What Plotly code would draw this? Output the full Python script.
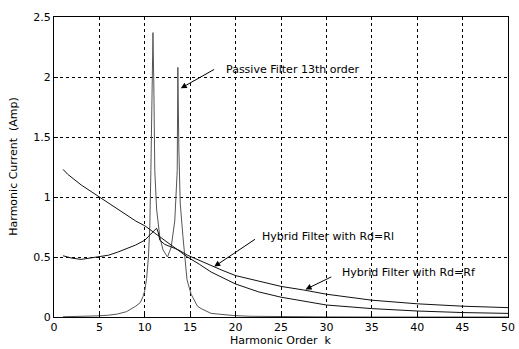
import plotly.graph_objects as go

# ---- data ----
passive_k = [1, 2, 3, 4, 5, 6, 7, 8, 8.5, 9, 9.5, 9.8, 10, 10.2, 10.4, 10.55, 10.67, 10.8, 10.9,
             11.0, 11.1, 11.3, 11.5, 11.65, 12.0, 12.5, 12.9, 13.3, 13.57, 13.64, 13.75, 13.9,
             14.2, 14.5, 14.65, 15.1, 15.8, 16.2, 17.3, 18, 19.8, 21.6, 25, 30, 35, 40, 45, 50]
passive_y = [0.002, 0.003, 0.005, 0.007, 0.01, 0.015, 0.025, 0.045, 0.065, 0.09, 0.12, 0.17, 0.22,
             0.32, 0.5, 0.75, 1.22, 1.9, 2.37, 1.9, 1.22, 0.9, 0.74, 0.67, 0.56, 0.5, 0.58, 0.8,
             1.22, 2.08, 1.4, 0.95, 0.67, 0.45, 0.31, 0.19, 0.09, 0.07, 0.03, 0.025, 0.012, 0.006,
             0.002, 0.001, 0.0, 0.0, 0.0, 0.0]

hyb_rl_k = [1, 2, 3, 4, 5, 6, 7, 8, 9, 10, 10.7, 11.3, 11.5, 11.65, 12.2, 13, 13.7, 14.7, 16,
            17.3, 18.5, 20, 22.5, 25, 27.5, 30, 35, 40, 45, 50]
hyb_rl_y = [0.51, 0.49, 0.48, 0.49, 0.5, 0.515, 0.54, 0.57, 0.6, 0.64, 0.69, 0.74, 0.7, 0.64,
            0.605, 0.58, 0.56, 0.515, 0.47, 0.43, 0.39, 0.345, 0.3, 0.255, 0.225, 0.19, 0.14,
            0.11, 0.09, 0.078]

hyb_rf_k = [1, 1.5, 3, 5, 7, 8, 9, 10, 10.74, 11.5, 12.2, 13, 13.7, 14.7, 16, 17.3, 20, 22.5,
            25, 27.5, 30, 35, 40, 45, 50]
hyb_rf_y = [1.23, 1.19, 1.1, 1.0, 0.9, 0.85, 0.8, 0.76, 0.72, 0.68, 0.635, 0.595, 0.56, 0.5,
            0.44, 0.375, 0.275, 0.21, 0.165, 0.13, 0.1, 0.07, 0.05, 0.037, 0.03]

x_ticks = [0, 5, 10, 15, 20, 25, 30, 35, 40, 45, 50]
y_ticks = [0, 0.5, 1, 1.5, 2, 2.5]
y_tick_text = ["0", "0.5", "1", "1.5", "2", "2.5"]

FONT = "DejaVu Sans, Arial, sans-serif"

fig = go.Figure()
fig.add_trace(go.Scatter(x=passive_k, y=passive_y, mode="lines",
                         line=dict(color="#555555", width=1), name="Passive Filter 13th order"))
fig.add_trace(go.Scatter(x=hyb_rl_k, y=hyb_rl_y, mode="lines",
                         line=dict(color="#111111", width=1), name="Hybrid Filter with Rd=Rl"))
fig.add_trace(go.Scatter(x=hyb_rf_k, y=hyb_rf_y, mode="lines",
                         line=dict(color="#111111", width=1), name="Hybrid Filter with Rd=Rf"))

axis_common = dict(showgrid=True, gridcolor="black", gridwidth=1, griddash="3px,3px",
                   showline=True, linecolor="black", linewidth=1, mirror=True,
                   ticks="inside", ticklen=4, tickcolor="black", zeroline=False,
                   ticklabeloverflow="allow",
                   tickfont=dict(family=FONT, size=11, color="black"))

fig.update_layout(
    width=519, height=349,
    margin=dict(l=54, r=4, t=17, b=32),
    paper_bgcolor="white", plot_bgcolor="white",
    showlegend=False,
    font=dict(family=FONT, size=11, color="black"),
    xaxis=dict(range=[0, 50], tickvals=x_ticks, **axis_common),
    yaxis=dict(range=[0, 2.5], tickvals=y_ticks, ticktext=y_tick_text, **axis_common),
)

# arrows
arrows = [
    (13.96, 1.906, 17.8, 2.07),
    (17.65, 0.42, 22.3, 0.656),
    (27.7, 0.23, 30.7, 0.34),
]
for x, y, ax, ay in arrows:
    fig.add_annotation(x=x, y=y, ax=ax, ay=ay, xref="x", yref="y", axref="x", ayref="y",
                       showarrow=True, arrowhead=2, arrowsize=1.2, arrowwidth=1,
                       arrowcolor="black", text="")

labels = [
    (18.7, 2.06, "Passive Filter 13th order"),
    (22.7, 0.67, "Hybrid Filter with Rd=Rl"),
    (31.5, 0.372, "Hybrid Filter with Rd=Rf"),
]
for x, y, t in labels:
    fig.add_annotation(x=x, y=y, xref="x", yref="y", text=t, showarrow=False,
                       xanchor="left", yanchor="middle",
                       font=dict(family=FONT, size=11, color="black"))

fig.add_annotation(x=0.5, y=-0.077, xref="paper", yref="paper", text="Harmonic Order  k",
                   showarrow=False, xanchor="center", yanchor="middle",
                   font=dict(family=FONT, size=11, color="black"))
fig.add_annotation(x=-0.091, y=0.5, xref="paper", yref="paper", text="Harmonic Current  (Amp)",
                   showarrow=False, xanchor="center", yanchor="middle", textangle=-90,
                   font=dict(family=FONT, size=11, color="black"))

fig.write_html("out.html")
